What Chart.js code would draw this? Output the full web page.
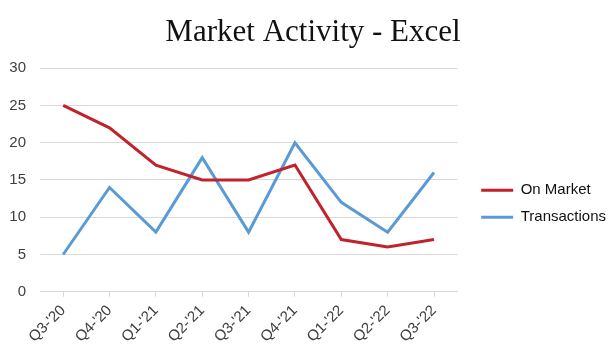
<!DOCTYPE html>
<html>
<head>
<meta charset="utf-8">
<script src="https://cdn.jsdelivr.net/npm/chart.js@4"></script>
<style>
  html, body { margin: 0; padding: 0; background: #fff; }
  #wrap { width: 616px; height: 351px; }
</style>
</head>
<body>
<div id="wrap"><canvas id="chart"></canvas></div>
<script>
// data
const quarters = ["Q3-'20", "Q4-'20", "Q1-'21", "Q2-'21", "Q3-'21", "Q4-'21", "Q1-'22", "Q2-'22", "Q3-'22"];
const onMarket = [25, 22, 17, 15, 15, 17, 7, 6, 7];
const transactions = [5, 14, 8, 18, 8, 20, 12, 8, 16];
const yTicks = [0, 5, 10, 15, 20, 25, 30];

const red = "#C0222E";
const blue = "#5B9BD5";
const sans = "Liberation Sans";

new Chart(document.getElementById("chart"), {
  type: "line",
  data: {
    labels: quarters,
    datasets: [{
      label: "On Market",
      data: onMarket,
      borderColor: red,
      backgroundColor: red,
      borderWidth: 3,
      pointRadius: 0,
      tension: 0,
      fill: false
    }, {
      label: "Transactions",
      data: transactions,
      borderColor: blue,
      backgroundColor: blue,
      borderWidth: 3,
      pointRadius: 0,
      tension: 0,
      fill: false
    }]
  },
  options: {
    responsive: true,
    maintainAspectRatio: false,
    animation: false,
    layout: { padding: { left: 10, right: 0, top: 8, bottom: 0 } },
    plugins: {
      title: {
        display: true,
        text: "Market Activity - Excel",
        color: "#111",
        font: { family: "Liberation Serif", size: 31, weight: "normal" },
        padding: { top: 6, bottom: 17 }
      },
      legend: {
        position: "right",
        maxWidth: 200,
        // empty title only pushes the legend items down a bit
        title: {
          display: true,
          text: " ",
          font: { size: 12 },
          padding: { top: 0, bottom: 34 }
        },
        labels: {
          color: "#111",
          font: { family: sans, size: 15 },
          boxWidth: 32,
          boxHeight: 3,
          padding: 12,
          // thin line swatch, no border around it
          generateLabels: (chart) => Chart.defaults.plugins.legend.labels.generateLabels(chart)
            .map(item => Object.assign(item, { lineWidth: 0 }))
        }
      },
      tooltip: { enabled: false }
    },
    scales: {
      x: {
        offset: true,
        grid: {
          offset: false,
          drawOnChartArea: false,
          drawTicks: true,
          tickLength: 5,
          color: "#d9d9d9"
        },
        border: { color: "#d9d9d9", width: 1 },
        ticks: {
          color: "#404040",
          font: { family: sans, size: 15 },
          maxRotation: 45,
          minRotation: 45,
          padding: 5
        }
      },
      y: {
        min: 0,
        max: 30,
        afterBuildTicks: (axis) => { axis.ticks = yTicks.map(v => ({ value: v })); },
        afterFit: (axis) => { axis.width = 30; },
        grid: { color: "#d9d9d9", drawTicks: false },
        border: { display: false },
        ticks: {
          color: "#404040",
          font: { family: sans, size: 15 },
          padding: 14
        }
      },
      // blank spacer between plot and legend
      gap: {
        type: "linear",
        position: "right",
        display: true,
        afterFit: (axis) => { axis.width = 12; },
        grid: { display: false },
        border: { display: false },
        ticks: { display: false }
      }
    }
  }
});
</script>
</body>
</html>
